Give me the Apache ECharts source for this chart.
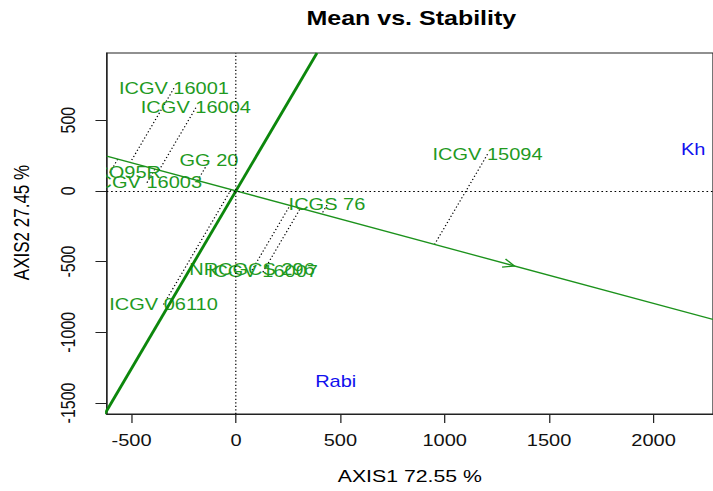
<!DOCTYPE html>
<html>
<head>
<meta charset="utf-8">
<title>Mean vs. Stability</title>
<script src="https://cdn.jsdelivr.net/npm/echarts@6/dist/echarts.min.js"></script>
<style>
  html, body { margin: 0; padding: 0; overflow: hidden; background: #fff; width: 713px; height: 491px; }
  /* the biplot is laid out on a narrower canvas and widened horizontally */
  #chart { width: 570px; height: 491px; transform: scaleX(1.2509); transform-origin: 0 0; }
</style>
</head>
<body>
<div id="chart"></div>
<script>
// Genotype scores (PC1, PC2)
const genotypes = ['ICGV 16001', 'ICGV 16004', 'GG 20', 'ICGCO95R', 'ICGV 16003',
                   'ICGS 76', 'ICGV 15094', 'NRCGCS 296', 'ICGV 16007', 'ICGV 06110'];
const genoX = [-297, -192, -129, -604, -426, 436, 1205, 77, 129, -347];
const genoY = [726, 588, 210, 129, 58, -101, 259, -560, -575, -804];

// Environment scores (PC1, PC2)
const environments = ['Kh', 'Rabi'];
const envX = [2190, 478];
const envY = [288, -1350];

// Axes
const xTicks = [-500, 0, 500, 1000, 1500, 2000];
const yTicks = [-1500, -1000, -500, 0, 500];
const xRange = [-619, 2285];
const yRange = [-1578, 975];

const FONT = '"Liberation Sans", Arial, Helvetica, sans-serif';
const GENO_COLOR = '#1f9a1f';
const ENV_COLOR = '#1010ee';
const LINE_GREEN = '#1c921c';

const mean = a => a.reduce((s, v) => s + v, 0) / a.length;
const plain = v => String(v);

// Average environment coordinate defines the ATC abscissa
const aecX = mean(envX);
const aecY = mean(envY);
const slope = aecY / aecX;
const abscissa = [[xRange[0], slope * xRange[0]], [xRange[1], slope * xRange[1]]];
const ordSlope = -1 / slope;
const ordinate = [[yRange[0] / ordSlope, yRange[0]], [yRange[1] / ordSlope, yRange[1]]];

// Perpendicular projection of each genotype onto the abscissa
const dd = aecX * aecX + aecY * aecY;
const projections = genotypes.map((g, i) => {
  const t = (genoX[i] * aecX + genoY[i] * aecY) / dd;
  return [genoX[i], genoY[i], t * aecX, t * aecY];
});

const labelData = genotypes.map((g, i) => [genoX[i], genoY[i], i, 0])
  .concat(environments.map((e, i) => [envX[i], envY[i], i, 1]));

const chart = echarts.init(document.getElementById('chart'), null, { renderer: 'svg' });

const frameLine = { show: true, onZero: false, lineStyle: { color: '#222', width: 1 } };

chart.setOption({
  animation: false,
  backgroundColor: '#fff',
  title: {
    text: 'Mean vs. Stability',
    left: 245, top: 8, padding: 0,
    textStyle: { fontFamily: FONT, fontSize: 20, fontWeight: 'bold', color: '#000' }
  },
  grid: {
    left: 85.3, right: 0, top: 53, bottom: 77, containLabel: false,
    show: true, borderColor: '#222', borderWidth: 1, backgroundColor: 'transparent'
  },
  xAxis: {
    type: 'value', min: xRange[0], max: xRange[1],
    name: 'AXIS1 72.55 %', nameLocation: 'middle', nameGap: 54, nameMoveOverlap: false,
    nameTextStyle: { fontFamily: FONT, fontSize: 17, color: '#000' },
    axisLine: frameLine,
    axisTick: { show: true, length: 9, customValues: xTicks, lineStyle: { color: '#222' } },
    axisLabel: { customValues: xTicks, formatter: plain, margin: 19, fontFamily: FONT, fontSize: 16, color: '#111' },
    splitLine: { show: false }
  },
  yAxis: {
    type: 'value', min: yRange[0], max: yRange[1],
    name: 'AXIS2 27.45 %', nameLocation: 'middle', nameGap: 59, nameMoveOverlap: false,
    nameTextStyle: { fontFamily: FONT, fontSize: 17, color: '#000', padding: [0, 0, 0, 22] },
    axisLine: frameLine,
    axisTick: { show: true, length: 9, customValues: yTicks, lineStyle: { color: '#222' } },
    axisLabel: { customValues: yTicks, formatter: plain, rotate: 90, margin: 23, fontFamily: FONT, fontSize: 16, color: '#111' },
    splitLine: { show: false }
  },
  series: [
    {
      // dotted reference lines through the origin
      type: 'line', data: [], silent: true, clip: false,
      markLine: {
        silent: true, symbol: 'none', label: { show: false },
        lineStyle: { color: '#000', width: 1, type: [1.3, 2.2] },
        data: [{ xAxis: 0 }, { yAxis: 0 }]
      }
    },
    {
      // projections of genotypes onto the mean-environment axis
      type: 'custom', clip: true, silent: true,
      data: projections,
      renderItem: (params, api) => {
        const a = api.coord([api.value(0), api.value(1)]);
        const b = api.coord([api.value(2), api.value(3)]);
        return {
          type: 'line',
          shape: { x1: a[0], y1: a[1], x2: b[0], y2: b[1] },
          style: { stroke: '#000', lineWidth: 1, lineDash: [1.2, 2.2] }
        };
      }
    },
    {
      // ATC abscissa
      type: 'line', data: abscissa, symbol: 'none', silent: true, clip: true,
      lineStyle: { color: LINE_GREEN, width: 1.3 }
    },
    {
      // ATC ordinate
      type: 'line', data: ordinate, symbol: 'none', silent: true, clip: true,
      lineStyle: { color: '#0c870c', width: 2.4 }
    },
    {
      // arrow head at the average environment
      type: 'custom', clip: true, silent: true,
      data: [[aecX, aecY]],
      renderItem: (params, api) => {
        const tip = api.coord([api.value(0), api.value(1)]);
        const o = api.coord([0, 0]);
        const ang = Math.atan2(tip[1] - o[1], tip[0] - o[0]);
        const L = 10, th = Math.PI / 7;
        return {
          type: 'polyline',
          shape: { points: [
            [tip[0] - L * Math.cos(ang - th), tip[1] - L * Math.sin(ang - th)],
            tip,
            [tip[0] - L * Math.cos(ang + th), tip[1] - L * Math.sin(ang + th)]
          ] },
          style: { stroke: LINE_GREEN, lineWidth: 1.2, fill: 'none' }
        };
      }
    },
    {
      // genotype and environment labels, placed at their scores
      type: 'custom', clip: true, silent: true,
      data: labelData,
      renderItem: (params, api) => {
        const p = api.coord([api.value(0), api.value(1)]);
        const isEnv = api.value(3) === 1;
        const name = isEnv ? environments[api.value(2)] : genotypes[api.value(2)];
        return {
          type: 'text', x: p[0], y: p[1],
          style: {
            text: name, fill: isEnv ? ENV_COLOR : GENO_COLOR,
            fontFamily: FONT, fontSize: 16,
            align: 'center', verticalAlign: 'middle'
          }
        };
      }
    }
  ]
});
</script>
</body>
</html>
